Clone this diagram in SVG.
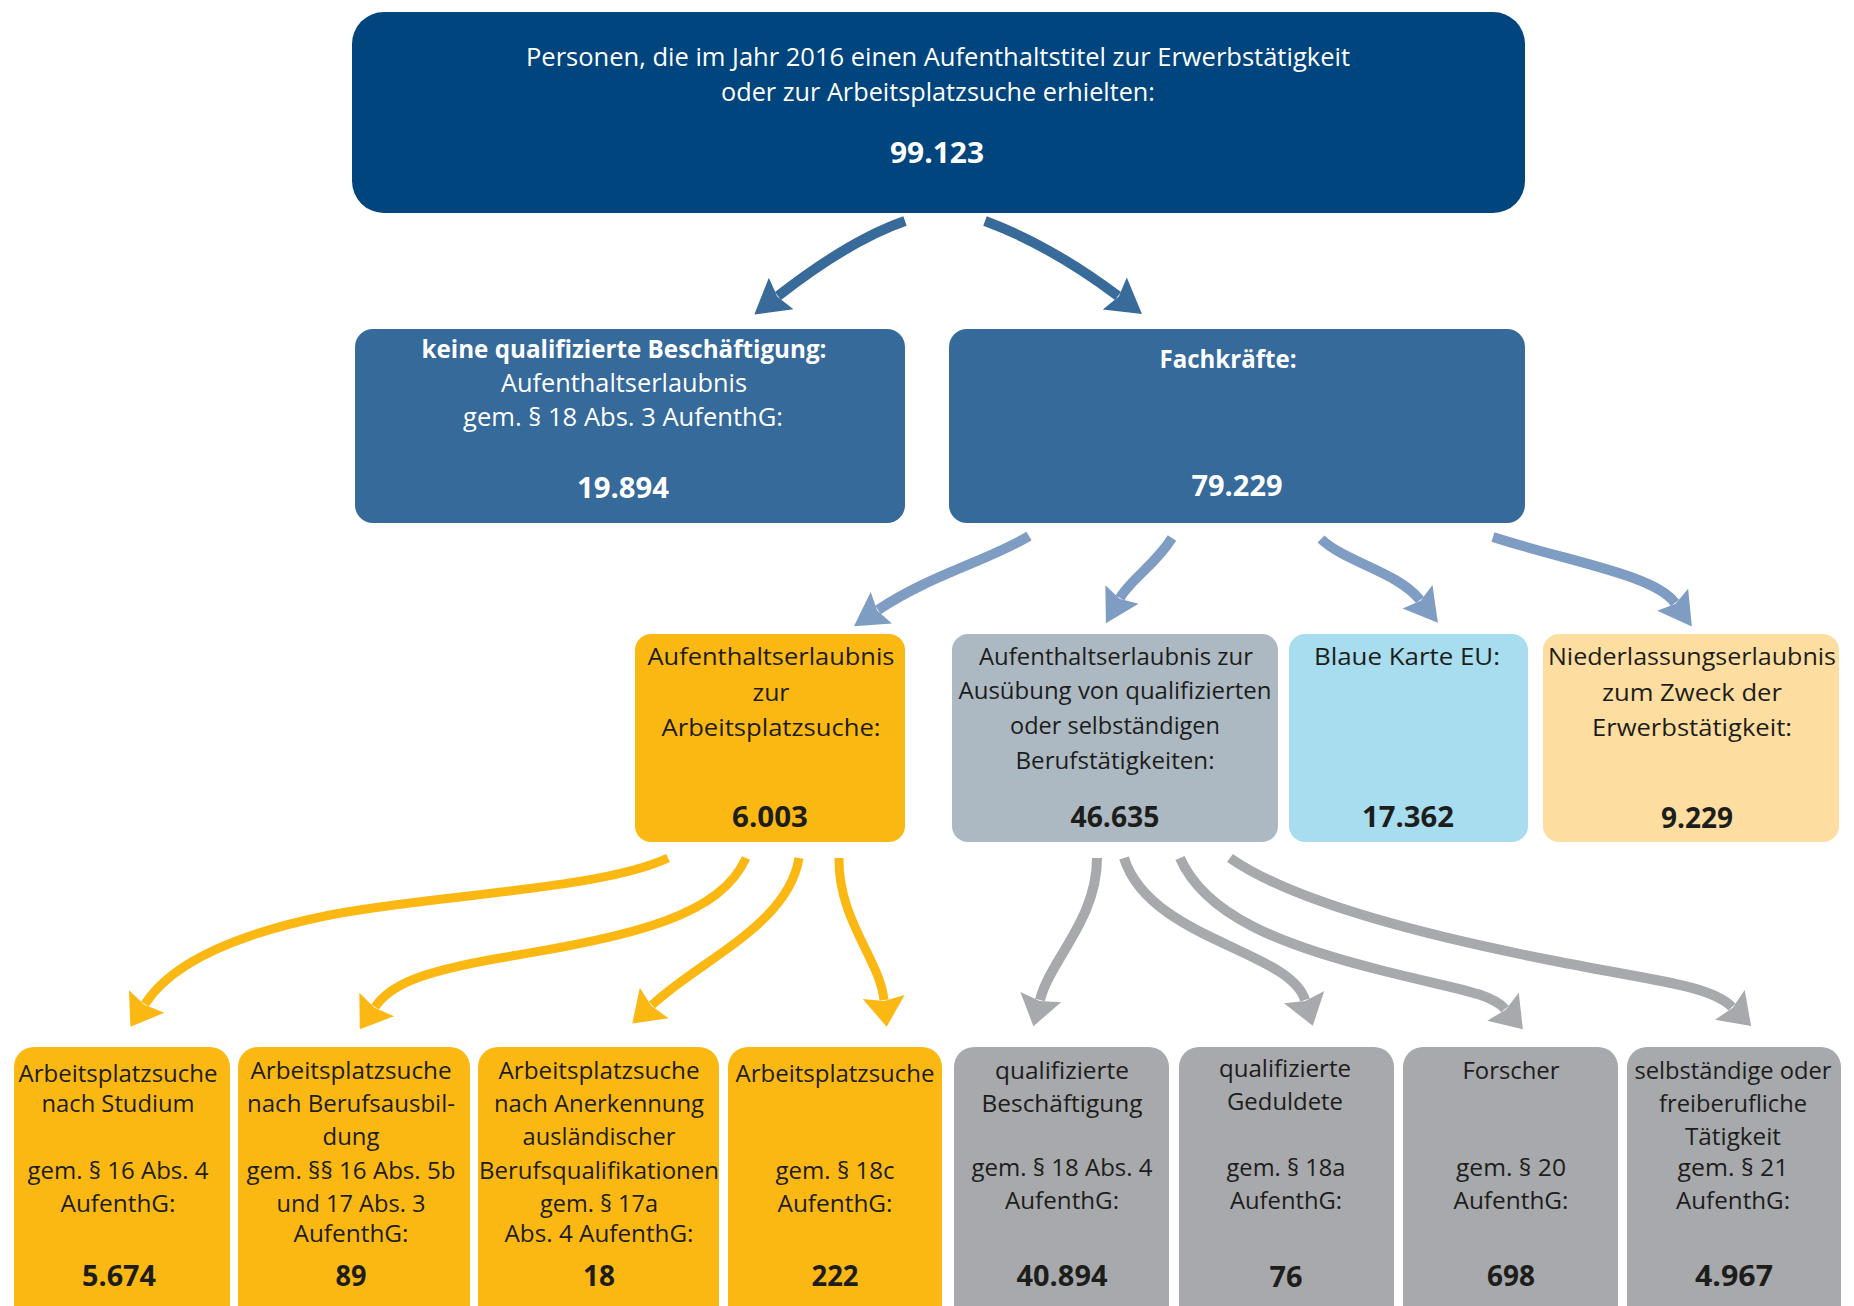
<svg xmlns="http://www.w3.org/2000/svg" width="1854" height="1306" viewBox="0 0 1854 1306">
<style>
text{font-family:"Open Sans","Liberation Sans",sans-serif;text-anchor:middle}
.w{fill:#ffffff}
.k{fill:#1d1d1b}
.f25{font-size:25px}
.f23{font-size:23px}
.n{font-size:28px;font-weight:bold}
.b{font-weight:bold}
.a1{fill:none;stroke:#386a9a;stroke-width:10}
.a2{fill:none;stroke:#7f9cc3;stroke-width:10}
.a3{fill:none;stroke:#fbb813;stroke-width:9}
.a4{fill:none;stroke:#a7a9ac;stroke-width:10}
</style>
<defs>
<marker id="h1" markerUnits="userSpaceOnUse" orient="auto" refX="0" refY="0" markerWidth="60" markerHeight="60" overflow="visible"><path d="M-4,-20 L30,0 L-4,20 L1,0 Z" fill="#386a9a"/></marker>
<marker id="h2" markerUnits="userSpaceOnUse" orient="auto" refX="0" refY="0" markerWidth="60" markerHeight="60" overflow="visible"><path d="M-4,-19 L29,0 L-4,19 L1,0 Z" fill="#7f9cc3"/></marker>
<marker id="h3" markerUnits="userSpaceOnUse" orient="auto" refX="0" refY="0" markerWidth="60" markerHeight="60" overflow="visible"><path d="M-3,-21 L27,0 L-3,21 L1,0 Z" fill="#fbb813"/></marker>
<marker id="h4" markerUnits="userSpaceOnUse" orient="auto" refX="0" refY="0" markerWidth="60" markerHeight="60" overflow="visible"><path d="M-3,-21 L27,0 L-3,21 L1,0 Z" fill="#a7a9ac"/></marker>
</defs>

<g id="connectors">
<path class="a1" marker-end="url(#h1)" d="M905,221 Q850,240 778,296"/>
<path class="a1" marker-end="url(#h1)" d="M985,221 Q1050,245 1118,296"/>
<path class="a2" marker-end="url(#h2)" d="M1029,536 C990,560 930,575 878,610"/>
<path class="a2" marker-end="url(#h2)" d="M1172,538 C1155,565 1130,580 1120,598"/>
<path class="a2" marker-end="url(#h2)" d="M1321,539 C1345,562 1398,572 1420,600"/>
<path class="a2" marker-end="url(#h2)" d="M1493,537 C1570,562 1655,575 1675,603"/>
<path class="a3" marker-end="url(#h3)" d="M668,858 C600,890 430,895 330,915 C230,935 170,965 145,1004"/>
<path class="a3" marker-end="url(#h3)" d="M746,858 C720,915 640,935 500,958 C420,972 390,985 375,1007"/>
<path class="a3" marker-end="url(#h3)" d="M799,858 C788,925 700,960 652,1005"/>
<path class="a3" marker-end="url(#h3)" d="M839,858 C838,920 880,960 884,1000"/>
<path class="a4" marker-end="url(#h4)" d="M1097,858 C1097,920 1050,960 1040,1000"/>
<path class="a4" marker-end="url(#h4)" d="M1124,858 C1150,940 1290,950 1305,1000"/>
<path class="a4" marker-end="url(#h4)" d="M1180,858 C1205,915 1280,945 1380,970 C1450,988 1490,992 1505,1009"/>
<path class="a4" marker-end="url(#h4)" d="M1230,858 C1290,900 1420,935 1560,962 C1650,980 1710,985 1732,1007"/>
</g>

<g id="n-total">
<rect x="352" y="12" width="1173" height="201" rx="32" fill="#00457d"/>
<text class="w f25" x="938" y="66" textLength="824" lengthAdjust="spacingAndGlyphs">Personen, die im Jahr 2016 einen Aufenthaltstitel zur Erwerbstätigkeit</text>
<text class="w f25" x="938" y="101" textLength="434" lengthAdjust="spacingAndGlyphs">oder zur Arbeitsplatzsuche erhielten:</text>
<text class="w n" x="937" y="163" textLength="94" lengthAdjust="spacingAndGlyphs">99.123</text>
</g>

<g id="n-keine">
<rect x="355" y="329" width="550" height="194" rx="18" fill="#356a9a"/>
<text class="w f25 b" x="624" y="358" textLength="405" lengthAdjust="spacingAndGlyphs">keine qualifizierte Beschäftigung:</text>
<text class="w f25" x="624" y="392" textLength="246" lengthAdjust="spacingAndGlyphs">Aufenthaltserlaubnis</text>
<text class="w f25" x="623" y="426" textLength="320" lengthAdjust="spacingAndGlyphs">gem. § 18 Abs. 3 AufenthG:</text>
<text class="w n" x="623" y="498" textLength="92" lengthAdjust="spacingAndGlyphs">19.894</text>
</g>

<g id="n-fach">
<rect x="949" y="329" width="576" height="194" rx="18" fill="#356a9a"/>
<text class="w f25 b" x="1228" y="368" textLength="137" lengthAdjust="spacingAndGlyphs">Fachkräfte:</text>
<text class="w n" x="1237" y="496" textLength="91" lengthAdjust="spacingAndGlyphs">79.229</text>
</g>

<g id="n-suche">
<rect x="635" y="634" width="270" height="208" rx="16" fill="#fbb813"/>
<text class="k f23" x="771" y="665" textLength="247" lengthAdjust="spacingAndGlyphs">Aufenthaltserlaubnis</text>
<text class="k f23" x="771" y="701" textLength="37" lengthAdjust="spacingAndGlyphs">zur</text>
<text class="k f23" x="771" y="736" textLength="219" lengthAdjust="spacingAndGlyphs">Arbeitsplatzsuche:</text>
<text class="k n" x="770" y="827" textLength="76" lengthAdjust="spacingAndGlyphs">6.003</text>
</g>

<g id="n-qual">
<rect x="952" y="634" width="326" height="208" rx="16" fill="#adb9c2"/>
<text class="k f23" x="1116" y="665" textLength="274" lengthAdjust="spacingAndGlyphs">Aufenthaltserlaubnis zur</text>
<text class="k f23" x="1115" y="699" textLength="313" lengthAdjust="spacingAndGlyphs">Ausübung von qualifizierten</text>
<text class="k f23" x="1115" y="734" textLength="210" lengthAdjust="spacingAndGlyphs">oder selbständigen</text>
<text class="k f23" x="1115" y="769" textLength="199" lengthAdjust="spacingAndGlyphs">Berufstätigkeiten:</text>
<text class="k n" x="1115" y="827" textLength="89" lengthAdjust="spacingAndGlyphs">46.635</text>
</g>

<g id="n-blau">
<rect x="1289" y="634" width="239" height="208" rx="16" fill="#a7ddef"/>
<text class="k f23" x="1407" y="665" textLength="186" lengthAdjust="spacingAndGlyphs">Blaue Karte EU:</text>
<text class="k n" x="1408" y="827" textLength="92" lengthAdjust="spacingAndGlyphs">17.362</text>
</g>

<g id="n-nieder">
<rect x="1543" y="634" width="296" height="208" rx="16" fill="#fedda0"/>
<text class="k f23" x="1692" y="665" textLength="288" lengthAdjust="spacingAndGlyphs">Niederlassungserlaubnis</text>
<text class="k f23" x="1692" y="701" textLength="180" lengthAdjust="spacingAndGlyphs">zum Zweck der</text>
<text class="k f23" x="1692" y="736" textLength="200" lengthAdjust="spacingAndGlyphs">Erwerbstätigkeit:</text>
<text class="k n" x="1697" y="828" textLength="72" lengthAdjust="spacingAndGlyphs">9.229</text>
</g>

<g id="n-studium">
<rect x="14" y="1047" width="216" height="290" rx="20" fill="#fbb813"/>
<text class="k f23" x="118" y="1082" textLength="199" lengthAdjust="spacingAndGlyphs">Arbeitsplatzsuche</text>
<text class="k f23" x="118" y="1112" textLength="153" lengthAdjust="spacingAndGlyphs">nach Studium</text>
<text class="k f23" x="118" y="1179" textLength="181" lengthAdjust="spacingAndGlyphs">gem. § 16 Abs. 4</text>
<text class="k f23" x="118" y="1212" textLength="115" lengthAdjust="spacingAndGlyphs">AufenthG:</text>
<text class="k n" x="119" y="1286" textLength="74" lengthAdjust="spacingAndGlyphs">5.674</text>
</g>

<g id="n-ausbildung">
<rect x="238" y="1047" width="232" height="290" rx="20" fill="#fbb813"/>
<text class="k f23" x="351" y="1079" textLength="201" lengthAdjust="spacingAndGlyphs">Arbeitsplatzsuche</text>
<text class="k f23" x="351" y="1112" textLength="208" lengthAdjust="spacingAndGlyphs">nach Berufsausbil-</text>
<text class="k f23" x="351" y="1145" textLength="57" lengthAdjust="spacingAndGlyphs">dung</text>
<text class="k f23" x="351" y="1179" textLength="209" lengthAdjust="spacingAndGlyphs">gem. §§ 16 Abs. 5b</text>
<text class="k f23" x="351" y="1212" textLength="149" lengthAdjust="spacingAndGlyphs">und 17 Abs. 3</text>
<text class="k f23" x="351" y="1242" textLength="115" lengthAdjust="spacingAndGlyphs">AufenthG:</text>
<text class="k n" x="351" y="1286" textLength="31" lengthAdjust="spacingAndGlyphs">89</text>
</g>

<g id="n-anerkennung">
<rect x="478" y="1047" width="241" height="290" rx="20" fill="#fbb813"/>
<text class="k f23" x="599" y="1079" textLength="201" lengthAdjust="spacingAndGlyphs">Arbeitsplatzsuche</text>
<text class="k f23" x="599" y="1112" textLength="210" lengthAdjust="spacingAndGlyphs">nach Anerkennung</text>
<text class="k f23" x="599" y="1145" textLength="153" lengthAdjust="spacingAndGlyphs">ausländischer</text>
<text class="k f23" x="599" y="1179" textLength="240" lengthAdjust="spacingAndGlyphs">Berufsqualifikationen</text>
<text class="k f23" x="599" y="1212" textLength="118" lengthAdjust="spacingAndGlyphs">gem. § 17a</text>
<text class="k f23" x="599" y="1242" textLength="189" lengthAdjust="spacingAndGlyphs">Abs. 4 AufenthG:</text>
<text class="k n" x="599" y="1286" textLength="32" lengthAdjust="spacingAndGlyphs">18</text>
</g>

<g id="n-18c">
<rect x="728" y="1047" width="214" height="290" rx="20" fill="#fbb813"/>
<text class="k f23" x="835" y="1082" textLength="199" lengthAdjust="spacingAndGlyphs">Arbeitsplatzsuche</text>
<text class="k f23" x="835" y="1179" textLength="119" lengthAdjust="spacingAndGlyphs">gem. § 18c</text>
<text class="k f23" x="835" y="1212" textLength="115" lengthAdjust="spacingAndGlyphs">AufenthG:</text>
<text class="k n" x="835" y="1286" textLength="47" lengthAdjust="spacingAndGlyphs">222</text>
</g>

<g id="n-qbesch">
<rect x="954" y="1047" width="215" height="290" rx="20" fill="#a7a9ac"/>
<text class="k f23" x="1062" y="1079" textLength="134" lengthAdjust="spacingAndGlyphs">qualifizierte</text>
<text class="k f23" x="1062" y="1112" textLength="161" lengthAdjust="spacingAndGlyphs">Beschäftigung</text>
<text class="k f23" x="1062" y="1176" textLength="181" lengthAdjust="spacingAndGlyphs">gem. § 18 Abs. 4</text>
<text class="k f23" x="1062" y="1209" textLength="114" lengthAdjust="spacingAndGlyphs">AufenthG:</text>
<text class="k n" x="1062" y="1286" textLength="91" lengthAdjust="spacingAndGlyphs">40.894</text>
</g>

<g id="n-geduldete">
<rect x="1179" y="1047" width="215" height="290" rx="20" fill="#a7a9ac"/>
<text class="k f23" x="1285" y="1077" textLength="132" lengthAdjust="spacingAndGlyphs">qualifizierte</text>
<text class="k f23" x="1285" y="1110" textLength="116" lengthAdjust="spacingAndGlyphs">Geduldete</text>
<text class="k f23" x="1286" y="1176" textLength="119" lengthAdjust="spacingAndGlyphs">gem. § 18a</text>
<text class="k f23" x="1286" y="1209" textLength="112" lengthAdjust="spacingAndGlyphs">AufenthG:</text>
<text class="k n" x="1286" y="1287" textLength="33" lengthAdjust="spacingAndGlyphs">76</text>
</g>

<g id="n-forscher">
<rect x="1403" y="1047" width="215" height="290" rx="20" fill="#a7a9ac"/>
<text class="k f23" x="1511" y="1079" textLength="97" lengthAdjust="spacingAndGlyphs">Forscher</text>
<text class="k f23" x="1511" y="1176" textLength="110" lengthAdjust="spacingAndGlyphs">gem. § 20</text>
<text class="k f23" x="1511" y="1209" textLength="115" lengthAdjust="spacingAndGlyphs">AufenthG:</text>
<text class="k n" x="1511" y="1286" textLength="48" lengthAdjust="spacingAndGlyphs">698</text>
</g>

<g id="n-selbst">
<rect x="1627" y="1047" width="214" height="290" rx="20" fill="#a7a9ac"/>
<text class="k f23" x="1733" y="1079" textLength="197" lengthAdjust="spacingAndGlyphs">selbständige oder</text>
<text class="k f23" x="1733" y="1112" textLength="148" lengthAdjust="spacingAndGlyphs">freiberufliche</text>
<text class="k f23" x="1733" y="1145" textLength="96" lengthAdjust="spacingAndGlyphs">Tätigkeit</text>
<text class="k f23" x="1733" y="1176" textLength="111" lengthAdjust="spacingAndGlyphs">gem. § 21</text>
<text class="k f23" x="1733" y="1209" textLength="114" lengthAdjust="spacingAndGlyphs">AufenthG:</text>
<text class="k n" x="1734" y="1286" textLength="78" lengthAdjust="spacingAndGlyphs">4.967</text>
</g>
</svg>
